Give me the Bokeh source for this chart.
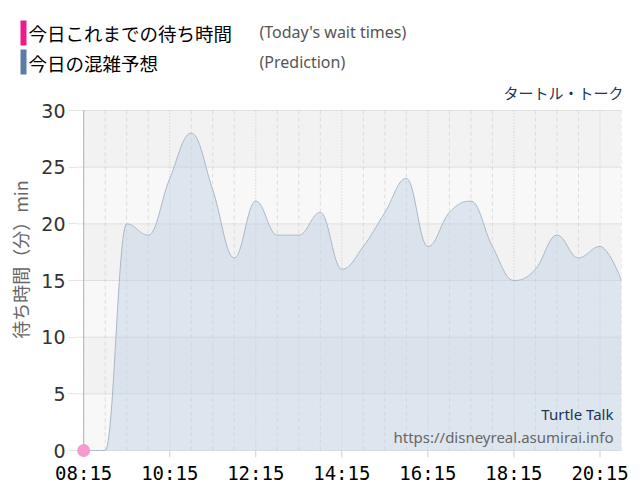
import math
from bokeh.plotting import figure
from bokeh.layouts import column, row
from bokeh.models import Range1d, FixedTicker, Label, BoxAnnotation
from bokeh.core.properties import value
from bokeh.embed import file_html
from bokeh.resources import INLINE

# ---- data ----
times = ["08:15", "08:45", "09:15", "09:45", "10:15", "10:45", "11:15", "11:45",
         "12:15", "12:45", "13:15", "13:45", "14:15", "14:45", "15:15", "15:45",
         "16:15", "16:45", "17:15", "17:45", "18:15", "18:45", "19:15", "19:45",
         "20:15", "20:45"]
predicted = [0, 0, 20, 19, 24, 28, 23, 17,
             22, 19, 19, 21, 16, 18, 21, 24,
             18, 21, 22, 18, 15, 16, 19, 17,
             18, 15]
actual_times = ["08:15"]
actual_waits = [0]
x_tick_labels = ["08:15", "10:15", "12:15", "14:15", "16:15", "18:15", "20:15"]
y_ticks = [0, 5, 10, 15, 20, 25, 30]
attraction = "タートル・トーク"
attraction_en = "Turtle Talk"
site = "https://disneyreal.asumirai.info"
legend_jp = ["今日これまでの待ち時間", "今日の混雑予想"]
legend_en = ["(Today's wait times)", "(Prediction)"]
legend_colors = ["#ee1a8c", "#5b7ba8"]
y_title = "待ち時間（分）min"


def to_min(s):
    h, m = s.split(":")
    return int(h) * 60 + int(m)


def spline_path(xs, ys, smoothing=1.5, steps=24):
    """Highcharts-style spline drawn through the given points."""
    n = len(xs)
    lc = [None] * n
    rc = [None] * n
    d = smoothing + 1
    for i in range(1, n - 1):
        px, py = xs[i], ys[i]
        lx, ly = xs[i - 1], ys[i - 1]
        nx, ny = xs[i + 1], ys[i + 1]
        lcx = (smoothing * px + lx) / d
        lcy = (smoothing * py + ly) / d
        rcx = (smoothing * px + nx) / d
        rcy = (smoothing * py + ny) / d
        corr = (rcy - lcy) * (rcx - px) / (rcx - lcx) + py - rcy
        lcy += corr
        rcy += corr
        if lcy > ly and lcy > py:
            lcy = max(ly, py); rcy = 2 * py - lcy
        elif lcy < ly and lcy < py:
            lcy = min(ly, py); rcy = 2 * py - lcy
        if rcy > ny and rcy > py:
            rcy = max(ny, py); lcy = 2 * py - rcy
        elif rcy < ny and rcy < py:
            rcy = min(ny, py); lcy = 2 * py - rcy
        lc[i] = (lcx, lcy)
        rc[i] = (rcx, rcy)
    outx, outy = [xs[0]], [ys[0]]
    for i in range(1, n):
        p0 = (xs[i - 1], ys[i - 1])
        p3 = (xs[i], ys[i])
        p1 = rc[i - 1] if rc[i - 1] else p0
        p2 = lc[i] if lc[i] else p3
        for k in range(1, steps + 1):
            t = k / steps
            a, b, c, e = (1 - t) ** 3, 3 * (1 - t) ** 2 * t, 3 * (1 - t) * t ** 2, t ** 3
            outx.append(a * p0[0] + b * p1[0] + c * p2[0] + e * p3[0])
            outy.append(a * p0[1] + b * p1[1] + c * p2[1] + e * p3[1])
    return outx, outy


def blank_fig(w, h):
    f = figure(width=w, height=h, output_backend="svg", toolbar_location=None,
               x_range=Range1d(0, w), y_range=Range1d(0, h), min_border=0,
               x_axis_location=None, y_axis_location=None, title=None,
               outline_line_color=None, background_fill_color="white",
               border_fill_color="white")
    f.grid.visible = False
    f.frame_align = False
    return f


# ---------------- header (legend) ----------------
HW, HH = 632, 80
header = blank_fig(HW, HH)
header.quad(left=[20, 20], right=[26, 26], top=[60, 31], bottom=[35, 6],
            fill_color=legend_colors, line_color=None)
header.text(x=[28, 28], y=[48, 18], text=legend_jp,
            text_font=value("Noto Sans CJK JP"), text_font_size="18.5px",
            text_color="#000000", text_baseline="middle")
header.text(x=[259, 259], y=[49, 19], text=legend_en,
            text_font=value("Noto Sans"), text_font_size="16px",
            text_color="#555555", text_baseline="middle")

# ---------------- geometry of the main chart ----------------
PLOT_PX = 340            # pixel height of the 0..30 span
PAD_TOP = 30             # blank frame space above the top tick (holds the name)
PAD_BOT = 7              # blank frame space below zero (room for the marker)
MH = PAD_TOP + PLOT_PX + PAD_BOT + 30
LW = 38

# ---------------- y axis title column ----------------
ylab = blank_fig(LW, MH)
ylab.text(x=[19], y=[228], text=[y_title], angle=math.pi / 2,
          text_font=value("Noto Sans CJK JP"), text_font_size="18px",
          text_color="#666666", text_align="center", text_baseline="middle")

# ---------------- main chart ----------------
xs = [to_min(t) for t in times]
sx, sy = spline_path(xs, predicted)
y0, y1 = y_ticks[0], y_ticks[-1]
unit = PLOT_PX / (y1 - y0)

p = figure(width=HW - LW, height=MH, output_backend="svg", toolbar_location=None,
           x_range=Range1d(xs[0] - 10, xs[-1]),
           y_range=Range1d(y0 - PAD_BOT / unit, y1 + PAD_TOP / unit),
           min_border_left=35, min_border_right=11, min_border_top=0,
           min_border_bottom=30, background_fill_color="white",
           border_fill_color="white", outline_line_color=None, title=None)
p.frame_align = False
p.grid.visible = False

major = [to_min(t) for t in x_tick_labels]
minor = [x for x in xs if x not in major]
p.xaxis.ticker = FixedTicker(ticks=major, minor_ticks=minor)
p.xaxis.major_label_overrides = {to_min(t): t for t in x_tick_labels}
p.yaxis.ticker = FixedTicker(ticks=y_ticks)

# alternating horizontal bands of the plot area
for i in range(len(y_ticks) - 1):
    p.add_layout(BoxAnnotation(left=xs[0], right=xs[-1], bottom=y_ticks[i],
                               top=y_ticks[i + 1], line_color=None, level="underlay",
                               fill_color="#f2f2f2" if i % 2 else "#f8f8f8",
                               fill_alpha=1.0))

# grid lines (only inside the 0..30 plot area)
p.segment(x0=minor, x1=minor, y0=[y0] * len(minor), y1=[y1] * len(minor),
          line_color="#dcdcdc", line_dash="4 3", line_width=1)
p.segment(x0=major, x1=major, y0=[y0] * len(major), y1=[y1] * len(major),
          line_color="#c8c8c8", line_dash="1 2", line_width=1)
p.segment(x0=[xs[0]] * len(y_ticks), x1=[xs[-1]] * len(y_ticks),
          y0=y_ticks, y1=y_ticks, line_color="#c8c8c8", line_dash="1 1", line_width=1)
# tick marks running through the blank strips, and the axis line
p.segment(x0=[xs[0] - 10] * len(y_ticks), x1=[xs[0]] * len(y_ticks),
          y0=y_ticks, y1=y_ticks, line_color="#e4e4e4", line_width=1)
p.segment(x0=major, x1=major, y0=[y0] * len(major),
          y1=[y0 - PAD_BOT / unit] * len(major), line_color="#d0d0d0", line_width=1)
p.segment(x0=[xs[0]], x1=[xs[0]], y0=[y0], y1=[y1], line_color="#b4b4b4", line_width=1)

p.xaxis.axis_line_color = None
p.xaxis.major_tick_line_color = None
p.xaxis.major_tick_out = 0
p.xaxis.major_tick_in = 0
p.xaxis.minor_tick_line_color = None
p.xaxis.major_label_standoff = 0
p.xaxis.major_label_text_font = "DejaVu Sans Mono"
p.xaxis.major_label_text_font_size = "19px"
p.xaxis.major_label_text_color = "#000000"

p.yaxis.axis_line_color = None
p.yaxis.major_tick_line_color = "#e4e4e4"
p.yaxis.major_tick_out = 8
p.yaxis.major_tick_in = 0
p.yaxis.minor_tick_line_color = None
p.yaxis.major_label_standoff = 3
p.yaxis.major_label_text_font = "DejaVu Sans"
p.yaxis.major_label_text_font_size = "19px"
p.yaxis.major_label_text_color = "#333333"

# prediction area
p.varea(x=sx, y1=[y0] * len(sx), y2=sy, fill_color="#c1d3e3", fill_alpha=0.5)
p.line(x=sx, y=sy, line_color="#a9b7c6", line_width=1)

# today's actual waits
p.scatter(x=[to_min(t) for t in actual_times], y=actual_waits, size=13,
          fill_color="#f59ad0", line_color=None)

# names (screen units from the frame's bottom-left corner)
p.add_layout(Label(x=547, y=365, x_units="screen", y_units="screen", text=attraction,
                   text_font="Noto Sans CJK JP", text_font_size="15px",
                   text_color="#223355", text_align="right", text_baseline="middle"))
p.add_layout(Label(x=537, y=44, x_units="screen", y_units="screen", text=attraction_en,
                   text_font="Noto Sans", text_font_size="15px",
                   text_color="#223355", text_align="right", text_baseline="middle"))
p.add_layout(Label(x=537, y=21, x_units="screen", y_units="screen", text=site,
                   text_font="Noto Sans", text_font_size="15px",
                   text_color="#666666", text_align="right", text_baseline="middle"))

layout = column(header, row(ylab, p, spacing=0), spacing=0)
open("out.html", "w").write(file_html(layout, INLINE))
